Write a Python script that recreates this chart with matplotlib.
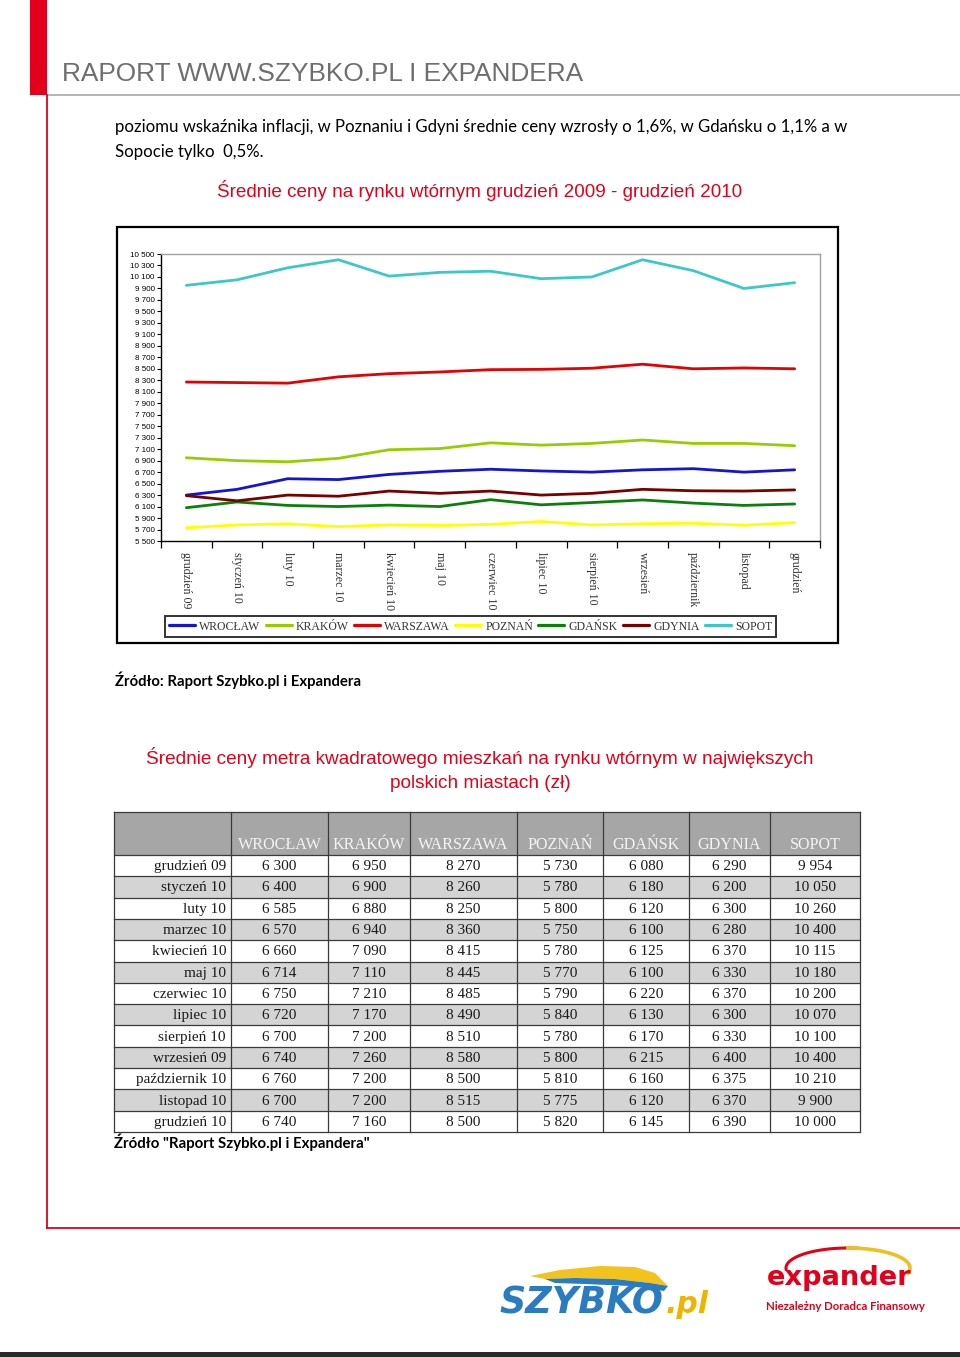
import numpy as np
import matplotlib
matplotlib.use("Agg")
import matplotlib.pyplot as plt
from matplotlib.patches import Rectangle, Polygon
from matplotlib.ticker import FixedLocator, FuncFormatter

# ---------------- data ----------------
cities = ["WROCŁAW", "KRAKÓW", "WARSZAWA", "POZNAŃ", "GDAŃSK", "GDYNIA", "SOPOT"]
chart_months = ["grudzień 09", "styczeń 10", "luty 10", "marzec 10", "kwiecień 10", "maj 10",
                "czerwiec 10", "lipiec 10", "sierpień 10", "wrzesień", "październik",
                "listopad", "grudzień"]
table_months = ["grudzień 09", "styczeń 10", "luty 10", "marzec 10", "kwiecień 10", "maj 10",
                "czerwiec 10", "lipiec 10", "sierpień 10", "wrzesień 09", "październik 10",
                "listopad 10", "grudzień 10"]
wroclaw  = [6300, 6400, 6585, 6570, 6660, 6714, 6750, 6720, 6700, 6740, 6760, 6700, 6740]
krakow   = [6950, 6900, 6880, 6940, 7090, 7110, 7210, 7170, 7200, 7260, 7200, 7200, 7160]
warszawa = [8270, 8260, 8250, 8360, 8415, 8445, 8485, 8490, 8510, 8580, 8500, 8515, 8500]
poznan   = [5730, 5780, 5800, 5750, 5780, 5770, 5790, 5840, 5780, 5800, 5810, 5775, 5820]
gdansk   = [6080, 6180, 6120, 6100, 6125, 6100, 6220, 6130, 6170, 6215, 6160, 6120, 6145]
gdynia   = [6290, 6200, 6300, 6280, 6370, 6330, 6370, 6300, 6330, 6400, 6375, 6370, 6390]
sopot    = [9954, 10050, 10260, 10400, 10115, 10180, 10200, 10070, 10100, 10400, 10210, 9900, 10000]
series = [wroclaw, krakow, warszawa, poznan, gdansk, gdynia, sopot]
colors = ["#1414d2", "#99cc00", "#e60000", "#ffff00", "#0a800a", "#7a0000", "#3cc8c8"]
y_ticks = list(range(5500, 10501, 200))

W, H = 960, 1357
fig = plt.figure(figsize=(W / 100, H / 100), dpi=100)
fig.patch.set_facecolor("white")
bg = fig.add_axes([0, 0, 1, 1])
bg.set_xlim(0, W)
bg.set_ylim(H, 0)
bg.axis("off")

RED = "#e2001a"
SERIF = ["Liberation Serif", "DejaVu Serif"]
SANS = ["Liberation Sans", "DejaVu Sans"]
BODY = ["Lato", "DejaVu Sans"]
renderer = fig.canvas.get_renderer()


def fit(t, width):
    w = t.get_window_extent(renderer).width
    t.set_fontsize(t.get_fontsize() * width / w)
    return t


# ---------------- page decoration ----------------
bg.add_patch(Rectangle((30, 0), 17, 95, color=RED, lw=0))
bg.plot([47, W], [95, 95], color="#a8a8a8", lw=1.2)
bg.plot([46.5, 46.5], [95, 1228], color=RED, lw=1.3)
bg.plot([46.5, W], [1228, 1228], color=RED, lw=1.3)
bg.add_patch(Rectangle((0, 1352), W, 5, color="#2a2a2a", lw=0))

t = bg.text(62, 81, "RAPORT WWW.SZYBKO.PL I EXPANDERA", family=SANS, color="#6e6e6e",
            fontsize=18, va="baseline", ha="left")
fit(t, 523)

t1 = bg.text(115, 132, "poziomu wskaźnika inflacji, w Poznaniu i Gdyni średnie ceny wzrosły o 1,6%, "
             "w Gdańsku o 1,1% a w", family=BODY, color="black", fontsize=11, va="baseline")
fit(t1, 730)
bg.text(115, 157, "Sopocie tylko  0,5%.", family=BODY, color="black",
        fontsize=t1.get_fontsize(), va="baseline")

t = bg.text(480, 197, "Średnie ceny na rynku wtórnym grudzień 2009 - grudzień 2010", family=SANS,
            color=RED, fontsize=13, ha="center", va="baseline")
fit(t, 525)

t = bg.text(115, 686, "Źródło: Raport Szybko.pl i Expandera", family=BODY, fontweight="bold",
            color="black", fontsize=11, va="baseline")
fit(t, 246)

t = bg.text(480, 764, "Średnie ceny metra kwadratowego mieszkań na rynku wtórnym w największych",
            family=SANS, color=RED, fontsize=13, ha="center", va="baseline")
fit(t, 670)
bg.text(480, 788, "polskich miastach (zł)", family=SANS, color=RED, fontsize=t.get_fontsize(),
        ha="center", va="baseline")

t = bg.text(114, 1148, "Źródło \"Raport Szybko.pl i Expandera\"", family=BODY, fontweight="bold",
            color="black", fontsize=11, va="baseline")
fit(t, 255)

# ---------------- chart ----------------
bg.add_patch(Rectangle((117, 227), 721, 416, fill=False, ec="black", lw=1.6))

ax = fig.add_axes([161 / W, 1 - 541 / H, (820 - 161) / W, (541 - 254) / H])
x = np.arange(len(chart_months))
for vals, c, name in zip(series, colors, cities):
    ax.plot(x, vals, color=c, lw=2.0, label=name, solid_capstyle="round",
            solid_joinstyle="round")
ax.set_xlim(-0.5, len(chart_months) - 0.5)
ax.set_ylim(5500, 10500)
ax.yaxis.set_major_locator(FixedLocator(y_ticks))
ax.yaxis.set_major_formatter(FuncFormatter(lambda v, p: f"{int(v):,}".replace(",", " ")))
ax.tick_params(axis="y", labelsize=5.8, length=3, width=0.8, pad=1.5)
for lab in ax.get_yticklabels():
    lab.set_family(SANS)
ax.set_xticks(np.arange(-0.5, len(chart_months), 1.0))
ax.set_xticklabels([])
ax.set_xticks(x, minor=True)
ax.set_xticklabels(chart_months, minor=True, rotation=270, family=SERIF, fontsize=8.6,
                   color="#333333", va="top", ha="center")
ax.tick_params(axis="x", which="major", length=5, width=0.9, direction="out")
ax.tick_params(axis="x", which="minor", length=0, pad=8)
for s in ["top", "right"]:
    ax.spines[s].set_color("#a0a0a0")
    ax.spines[s].set_linewidth(1.0)
for s in ["left", "bottom"]:
    ax.spines[s].set_color("black")
    ax.spines[s].set_linewidth(1.0)

leg = ax.legend(loc="center", bbox_to_anchor=((168 + 773) / 2 / W, 1 - 626.5 / H),
                bbox_transform=fig.transFigure, ncol=7, frameon=True, fancybox=False,
                prop={"family": SERIF, "size": 8.5}, handlelength=2.2, handletextpad=0.35,
                columnspacing=0.45, borderpad=0.35, borderaxespad=0)
leg.get_frame().set_edgecolor("black")
leg.get_frame().set_linewidth(1.4)
for txt in leg.get_texts():
    txt.set_color("#333333")
for h in leg.legend_handles:
    h.set_linewidth(2.3)

# ---------------- table ----------------
col_edges = [114, 231, 328, 410, 517, 603, 689, 770, 860]
head_top, head_bot = 812, 855
row_h = (1132 - 855) / len(table_months)
table_vals = [list(r) for r in zip(*series)]
bg.add_patch(Rectangle((col_edges[0], head_top), col_edges[-1] - col_edges[0], head_bot - head_top,
                       color="#a6a6a6", lw=0))
for i, month in enumerate(table_months):
    y0 = head_bot + i * row_h
    bg.add_patch(Rectangle((col_edges[0], y0), col_edges[-1] - col_edges[0], row_h,
                           color="white" if i % 2 == 0 else "#d4d4d4", lw=0))
    bg.text(col_edges[1] - 5, y0 + row_h / 2 + 1, month, family=SERIF, fontsize=11,
            ha="right", va="center", color="#1a1a1a")
    for j, v in enumerate(table_vals[i]):
        cx = (col_edges[j + 1] + col_edges[j + 2]) / 2
        bg.text(cx, y0 + row_h / 2 + 1, f"{v:,}".replace(",", " "), family=SERIF, fontsize=11,
                ha="center", va="center", color="#1a1a1a")
for j, name in enumerate(cities):
    cx = (col_edges[j + 1] + col_edges[j + 2]) / 2
    bg.text(cx, 845, name, family=SERIF, fontsize=11.6, ha="center", va="center", color="#f4f4f4")
gl = dict(color="#3a3a3a", lw=0.9)
for xe in col_edges:
    bg.plot([xe, xe], [head_top, 1132], **gl)
bg.plot([col_edges[0], col_edges[-1]], [head_top, head_top], **gl)
for i in range(len(table_months) + 1):
    yy = head_bot + i * row_h
    bg.plot([col_edges[0], col_edges[-1]], [yy, yy], **gl)

# ---------------- logos ----------------
# SZYBKO.pl
dy = -6
bg.add_patch(Polygon([(530, 1282 + dy), (560, 1276 + dy), (600, 1272 + dy), (635, 1273 + dy),
                      (655, 1279 + dy), (668, 1292 + dy), (650, 1289 + dy), (615, 1285 + dy),
                      (575, 1284 + dy), (545, 1285 + dy)], closed=True, color="#f3c21c", lw=0))
bg.add_patch(Polygon([(545, 1285 + dy), (575, 1284 + dy), (615, 1285 + dy), (650, 1289 + dy),
                      (668, 1292 + dy), (664, 1297 + dy), (630, 1292 + dy), (585, 1290 + dy),
                      (555, 1289 + dy)], closed=True, color="#2a7bc0", lw=0))
t = bg.text(499, 1313, "SZYBKO", family=["DejaVu Sans"], fontweight="bold", style="oblique",
            color="#2a7bc0", fontsize=20, va="baseline")
fit(t, 164)
t = bg.text(666, 1313, ".pl", family=["DejaVu Sans"], fontweight="bold", style="oblique",
            color="#f0b400", fontsize=16, va="baseline")
fit(t, 43)

# expander
tt = np.linspace(np.pi * 0.45, np.pi * 1.02, 60)
bg.plot(848 + 62 * np.cos(tt), 1268 - 20 * np.sin(tt), color=RED, lw=2.2)
tt = np.linspace(-np.pi * 0.08, np.pi * 0.5, 60)
bg.plot(848 + 62 * np.cos(tt), 1268 - 20 * np.sin(tt), color="#f0c020", lw=2.6)
t = bg.text(767, 1285, "expander", family=["DejaVu Sans"], fontweight="bold", color=RED,
            fontsize=18, va="baseline")
fit(t, 145)
t = bg.text(766, 1310, "Niezależny Doradca Finansowy", family=BODY, fontweight="bold", color=RED,
            fontsize=8, va="baseline")
fit(t, 159)

fig.savefig("out.png", dpi=100, facecolor="white")
